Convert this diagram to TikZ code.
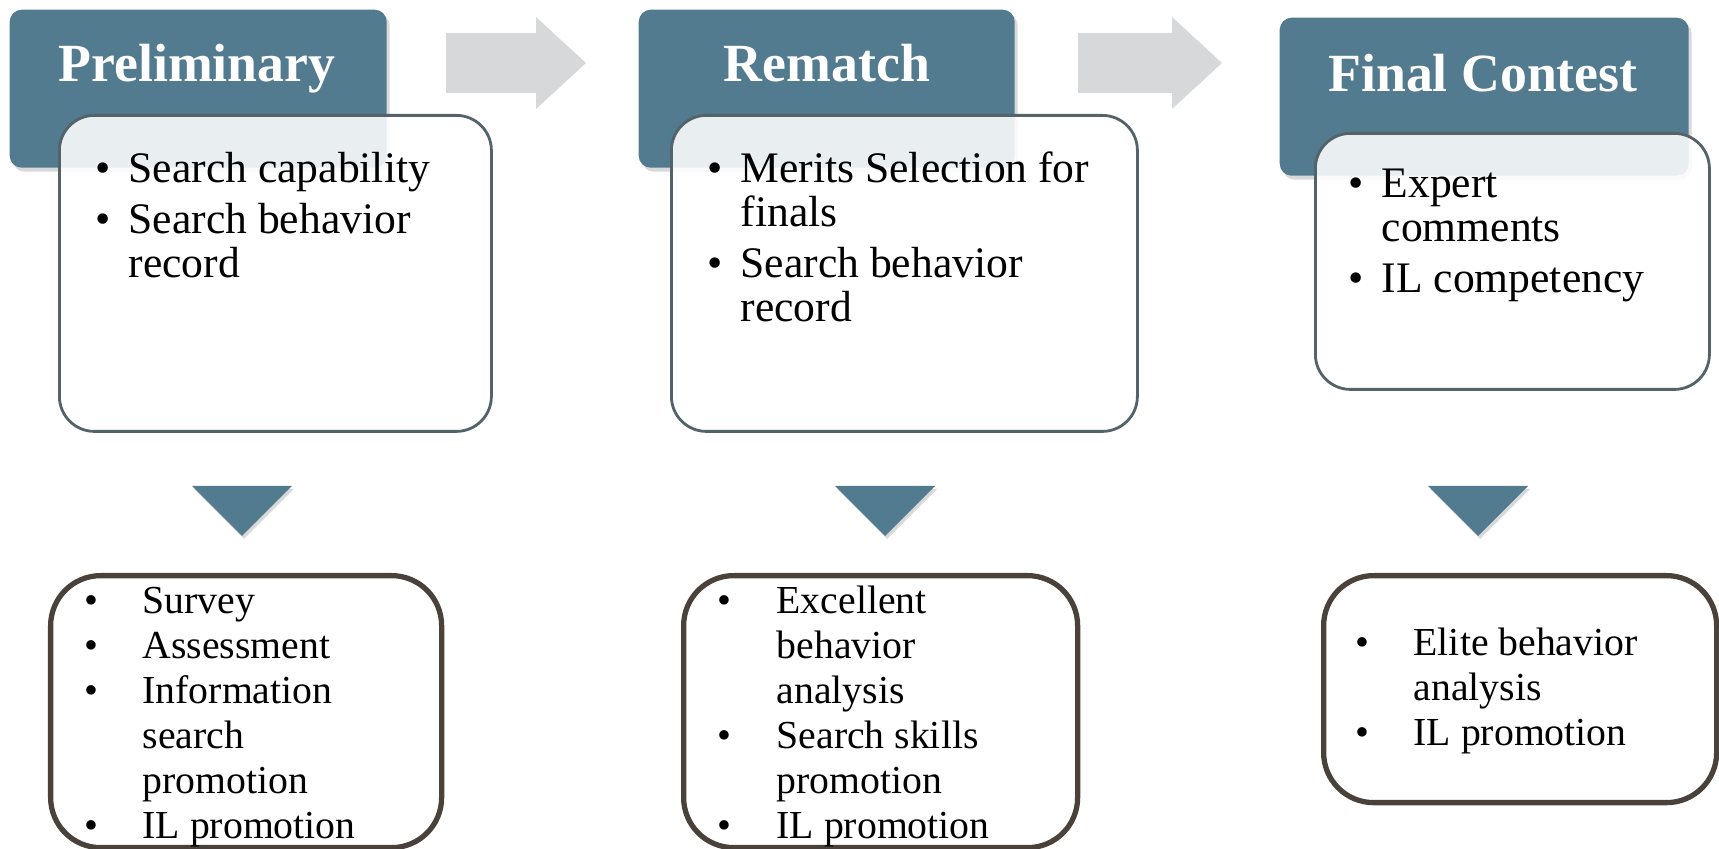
\documentclass[tikz,border=0pt]{standalone}
\usepackage{fontspec}
\setmainfont{Liberation Serif}
\usetikzlibrary{shadows}
\definecolor{myBlue}{RGB}{82,123,143}
\definecolor{myLGray}{RGB}{214,216,217}
\definecolor{myFrame}{RGB}{84,98,106}
\definecolor{myBrown}{RGB}{74,66,58}
\newcommand{\itm}[1][0.33cm]{\makebox[#1][l]{\strut\textbullet}}
\newcommand{\ind}[1][0.33cm]{\hspace*{#1}}
\tikzset{
  head/.style={fill=myBlue, rounded corners=0.12cm, inner sep=0pt,
    drop shadow={opacity=0.3, shadow xshift=0.03cm, shadow yshift=-0.04cm}},
  headtxt/.style={text=white, font=\fontsize{15.3}{18}\selectfont\bfseries},
  infobox/.style={draw=myFrame, line width=0.8pt, fill=white, fill opacity=0.88,
    rounded corners=0.35cm, inner sep=0pt},
  resbox/.style={draw=myBrown, line width=1.5pt, fill=white,
    rounded corners=0.5cm, inner sep=0pt},
  itemtxt/.style={font=\fontsize{12.4}{12.5}\selectfont, align=left, inner sep=0pt},
  restxt/.style={font=\fontsize{11.3}{12.8}\selectfont, align=left, inner sep=0pt}
}

\begin{document}
\begin{tikzpicture}
  \useasboundingbox (0,0) rectangle (17.19,-8.49);
  % Pfeile zwischen den Stufen
  \foreach \a/\b/\c in {4.46/5.36/5.86, 10.78/11.72/12.22} {
    \fill[myLGray] (\a,-0.33) -- (\b,-0.33) -- (\b,-0.17) -- (\c,-0.63)
      -- (\b,-1.09) -- (\b,-0.93) -- (\a,-0.93) -- cycle;
  }
  % Stufe 1
  \node[head, minimum width=3.77cm, minimum height=1.58cm, anchor=north west] (prelim) at (0.09,-0.09) {};
  \node[headtxt, anchor=base] (prelimlbl) at (1.97,-0.82) {Preliminary};
  \node[infobox, minimum width=4.32cm, minimum height=3.16cm, anchor=north west] (prelimbox) at (0.58,-1.14) {};
  \node[itemtxt, anchor=north west] (prelimtxt) at (0.95,-1.51)
    {\itm Search capability\\[2pt]\itm Search behavior\\\ind record};
  % Stufe 2
  \node[head, minimum width=3.76cm, minimum height=1.58cm, anchor=north west] (rematch) at (6.38,-0.09) {};
  \node[headtxt, anchor=base] (rematchlbl) at (8.27,-0.82) {Rematch};
  \node[infobox, minimum width=4.66cm, minimum height=3.16cm, anchor=north west] (rematchbox) at (6.70,-1.14) {};
  \node[itemtxt, anchor=north west] (rematchtxt) at (7.07,-1.51)
    {\itm Merits Selection for\\\ind finals\\[2pt]\itm Search behavior\\\ind record};
  % Stufe 3
  \node[head, minimum width=4.09cm, minimum height=1.58cm, anchor=north west] (final) at (12.79,-0.17) {};
  \node[headtxt, anchor=base] (finallbl) at (14.83,-0.92) {Final Contest};
  \node[infobox, minimum width=3.94cm, minimum height=2.56cm, anchor=north west] (finalbox) at (13.14,-1.32) {};
  \node[itemtxt, anchor=north west] (finaltxt) at (13.48,-1.66)
    {\itm Expert\\\ind comments\\[2pt]\itm IL competency};
  % Dreiecke
  \foreach \x in {2.42, 8.85, 14.78} {
    \fill[myBlue, drop shadow={opacity=0.3, shadow xshift=0.02cm, shadow yshift=-0.03cm}]
      (\x-0.50,-4.86) -- (\x+0.50,-4.86) -- (\x,-5.36) -- cycle;
  }
  % Ergebnisse
  \node[resbox, minimum width=3.91cm, minimum height=2.72cm, anchor=north west] (prelimres) at (0.48,-5.73) {};
  \node[restxt, anchor=north west] (prelimrestxt) at (0.84,-5.81)
    {\itm[0.58cm]Survey\\\itm[0.58cm]Assessment\\\itm[0.58cm]Information\\\ind[0.58cm]search\\\ind[0.58cm]promotion\\\itm[0.58cm]IL promotion};
  \node[resbox, minimum width=3.94cm, minimum height=2.72cm, anchor=north west] (rematchres) at (6.81,-5.73) {};
  \node[restxt, anchor=north west] (rematchrestxt) at (7.17,-5.81)
    {\itm[0.59cm]Excellent\\\ind[0.59cm]behavior\\\ind[0.59cm]analysis\\\itm[0.59cm]Search skills\\\ind[0.59cm]promotion\\\itm[0.59cm]IL promotion};
  \node[resbox, minimum width=3.93cm, minimum height=2.27cm, anchor=north west] (finalres) at (13.21,-5.73) {};
  \node[restxt, anchor=north west] (finalrestxt) at (13.55,-6.23)
    {\itm[0.58cm]Elite behavior\\\ind[0.58cm]analysis\\\itm[0.58cm]IL promotion};
\end{tikzpicture}
\end{document}
